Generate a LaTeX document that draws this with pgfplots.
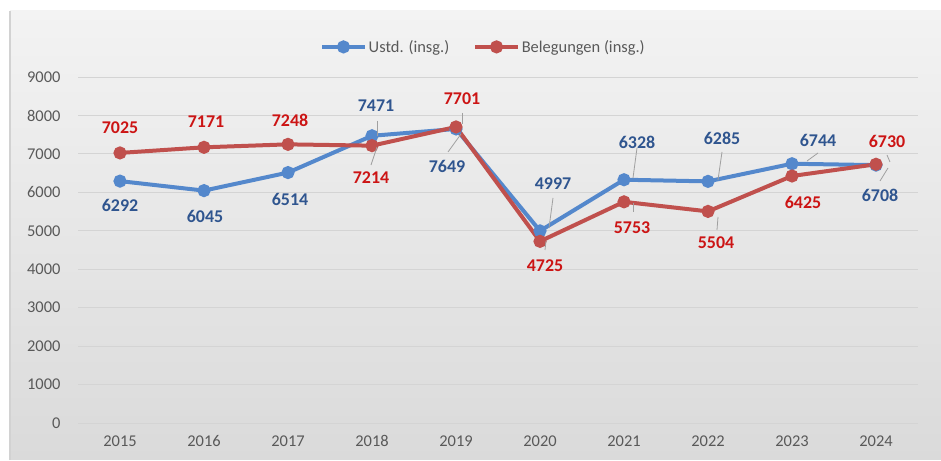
\documentclass[border=0pt]{standalone}
\usepackage{pgfplots}
\pgfplotsset{compat=1.18}
\usepackage{fontspec}
\setmainfont{Carlito}
\definecolor{ublue}{RGB}{84,136,204}
\definecolor{bred}{RGB}{192,80,77}
\definecolor{ulab}{RGB}{47,85,143}
\definecolor{blab}{RGB}{204,20,20}
\definecolor{tickc}{RGB}{89,89,89}
\definecolor{gridc}{RGB}{212,212,212}
\definecolor{leadc}{RGB}{160,160,160}
\begin{document}
\begin{tikzpicture}
\fill[white] (0,0) rectangle (941bp,460bp);
\shade[top color={rgb,255:red,243;green,243;blue,243}, bottom color={rgb,255:red,218;green,218;blue,218}] (10bp,0) rectangle (941bp,449bp);
\draw[gray!35, line width=1.5bp] (10bp,0) -- (10bp,449bp);
\begin{axis}[
  at={(78bp,37bp)}, anchor=south west,
  scale only axis, width=840bp, height=346bp,
  xmin=-0.5, xmax=9.5, ymin=0, ymax=9000,
  ytick={0,1000,2000,3000,4000,5000,6000,7000,8000,9000},
  xtick={0,1,2,3,4,5,6,7,8,9},
  xticklabels={2015,2016,2017,2018,2019,2020,2021,2022,2023,2024},
  axis line style={draw=none},
  major tick length=0pt,
  ymajorgrids, grid style={gridc, line width=0.8bp},
  /pgf/number format/assume math mode=true,
  /pgf/number format/1000 sep={},
  tick label style={font=\fontsize{16.5}{18}\selectfont, text=tickc},
  x tick label style={yshift=-9bp},
  y tick label style={xshift=-14bp},
  clip=false,
  legend columns=2,
  legend style={at={(0.4827,1.087)}, anchor=center, draw=none, fill=none,
    font=\fontsize{16.5}{18}\selectfont, text=tickc,
    /tikz/every even column/.append style={column sep=22bp}},
  legend image code/.code={\draw[mark repeat=2,mark phase=2,#1] plot coordinates {(0cm,0cm) (0.75cm,0cm) (1.5cm,0cm)};},
]
\addplot[ublue, line width=4bp, mark=*, mark size=4.5bp, mark options={solid, fill=ublue, draw=ublue}]
  coordinates {(0,6292) (1,6045) (2,6514) (3,7471) (4,7649) (5,4997) (6,6328) (7,6285) (8,6744) (9,6708)};
\addlegendentry{Ustd. (insg.)}
\addplot[bred, line width=4bp, mark=*, mark size=4.5bp, mark options={solid, fill=bred, draw=bred}]
  coordinates {(0,7025) (1,7171) (2,7248) (3,7214) (4,7701) (5,4725) (6,5753) (7,5504) (8,6425) (9,6730)};
\addlegendentry{Belegungen (insg.)}
\end{axis}
\begin{scope}[x=1bp, y=-1bp, yshift=460bp]
  % leader lines
  \begin{scope}[leadc, line width=0.8bp]
    \draw (377,121) -- (377,136);
    \draw (377,147) -- (371,165);
    \draw (462,113) -- (462,124);
    \draw (461,134) -- (448,152);
    \draw (553,198) -- (549,228);
    \draw (546,241) -- (545,250);
    \draw (637,148) -- (633,178);
    \draw (633,203) -- (633,212);
    \draw (722,152) -- (718,180);
    \draw (718,217) -- (717,230);
    \draw (818,153) -- (807,161);
    \draw (887,155) -- (890,162);
    \draw (888,168) -- (880,181);
  \end{scope}
  \begin{scope}[every node/.style={font=\bfseries\fontsize{18}{20}\selectfont, inner sep=0pt}]
    % Ustd labels
    \node[text=ulab] at (120,205) {6292};
    \node[text=ulab] at (205,216) {6045};
    \node[text=ulab] at (290,199) {6514};
    \node[text=ulab] at (376,106) {7471};
    \node[text=ulab] at (447,166) {7649};
    \node[text=ulab] at (553,184) {4997};
    \node[text=ulab] at (637,142) {6328};
    \node[text=ulab] at (722,138) {6285};
    \node[text=ulab] at (818,140) {6744};
    \node[text=ulab] at (880,195) {6708};
    % Belegungen labels
    \node[text=blab] at (120,128) {7025};
    \node[text=blab] at (206,122) {7171};
    \node[text=blab] at (290,120) {7248};
    \node[text=blab] at (371,178) {7214};
    \node[text=blab] at (462,99) {7701};
    \node[text=blab] at (545,266) {4725};
    \node[text=blab] at (632,228) {5753};
    \node[text=blab] at (716,243) {5504};
    \node[text=blab] at (803,202) {6425};
    \node[text=blab] at (887,141) {6730};
  \end{scope}
\end{scope}
\end{tikzpicture}
\end{document}
